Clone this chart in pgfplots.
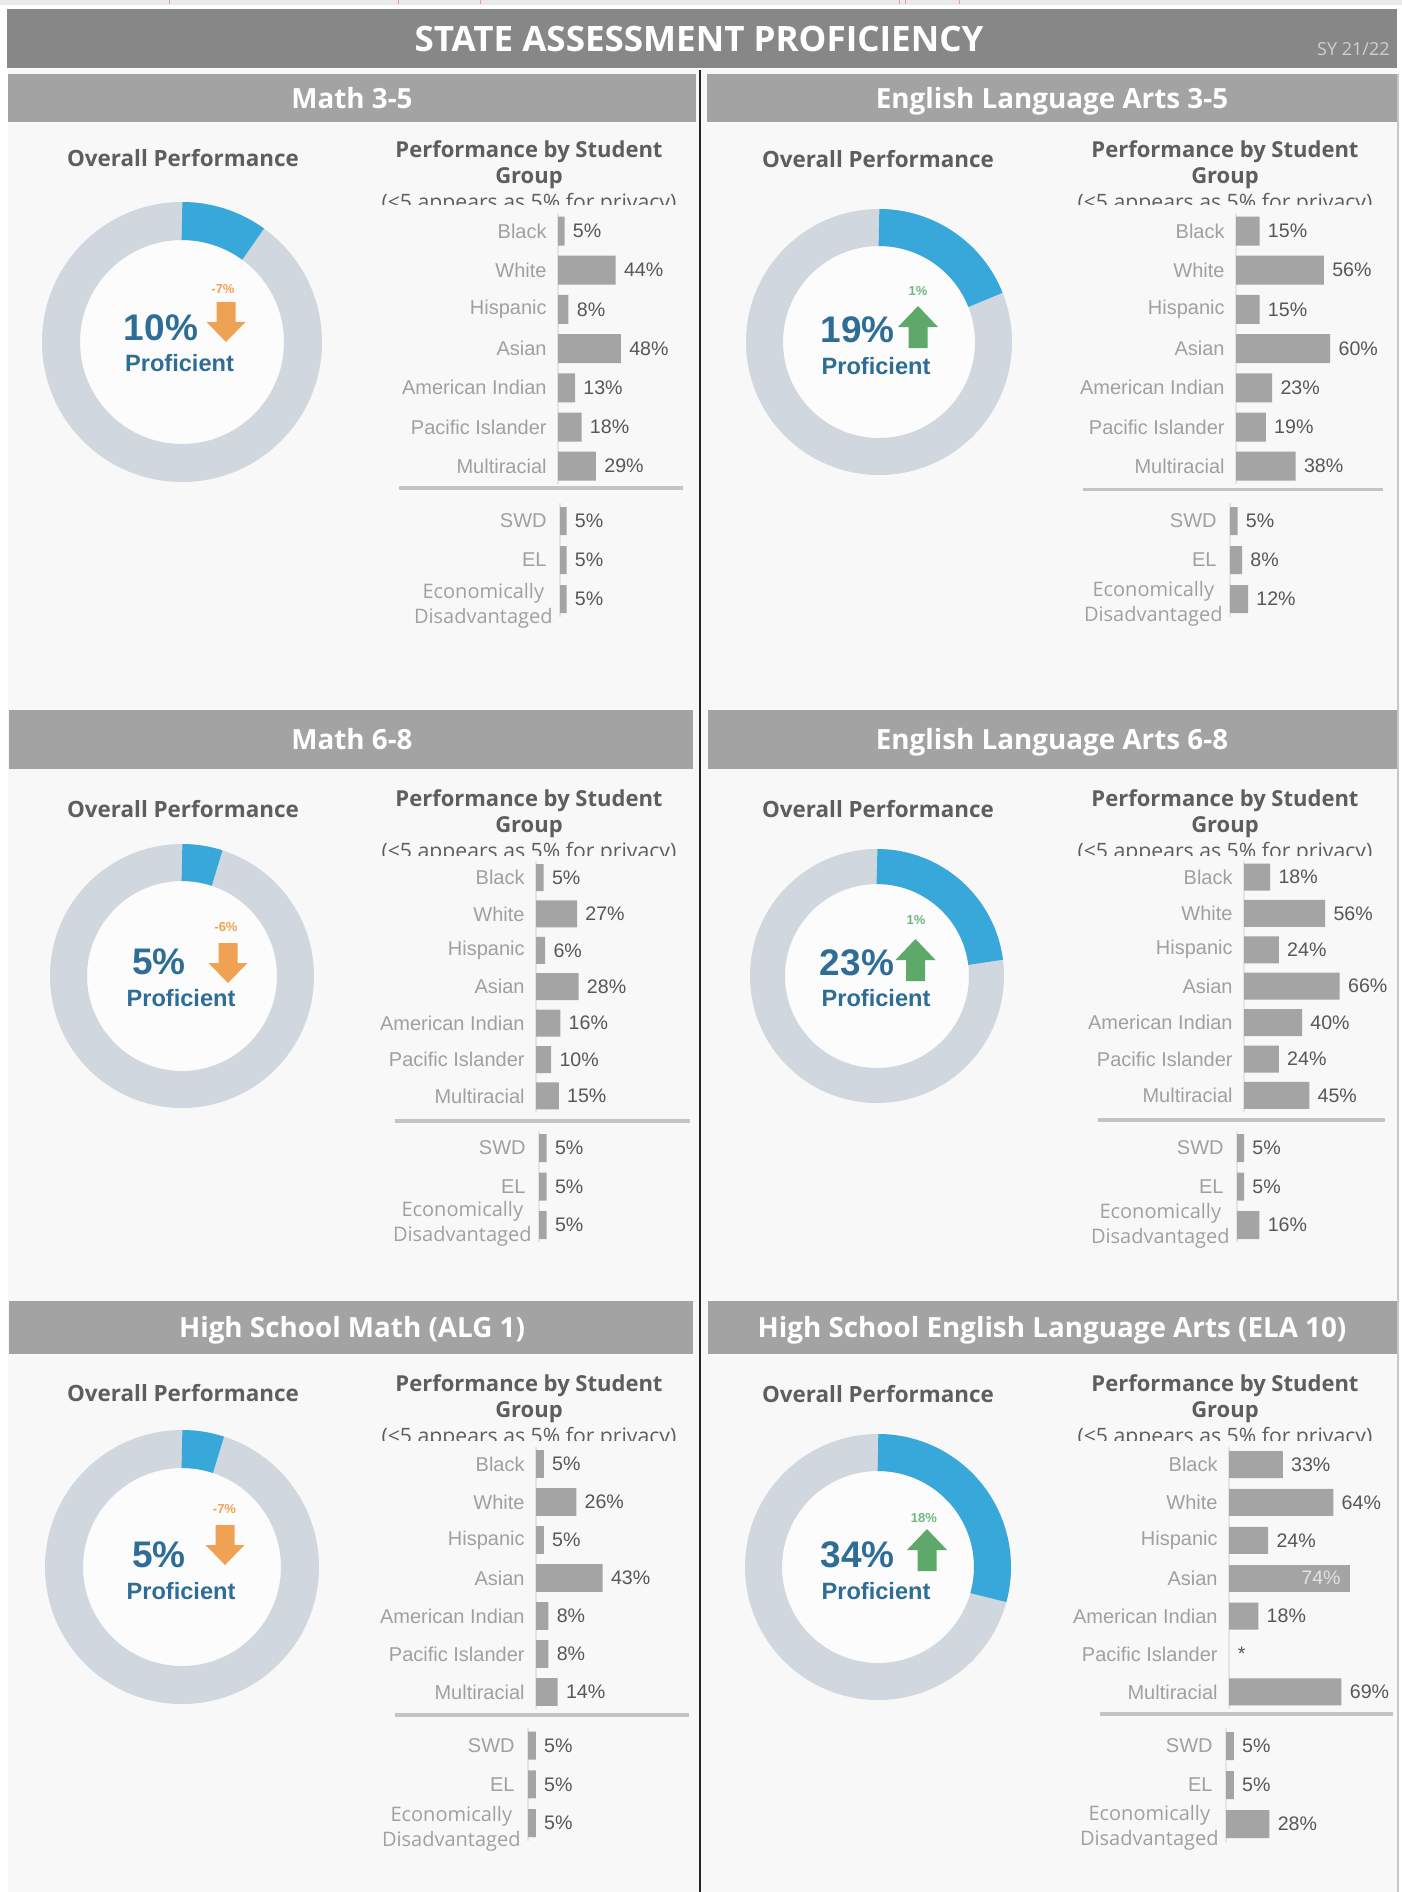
\documentclass[border=0pt]{standalone}
\usepackage{pgfplots}
\pgfplotsset{compat=1.18}
\usepackage{fontspec}
\setmainfont{Open Sans}
\newfontfamily\lib{Liberation Sans}

\definecolor{titlebar}{HTML}{878787}
\definecolor{hdr}{HTML}{A3A3A3}
\definecolor{panelbg}{HTML}{F8F8F8}
\definecolor{barc}{HTML}{A4A4A4}
\definecolor{lbl}{HTML}{A0A0A0}
\definecolor{val}{HTML}{575757}
\definecolor{ringc}{HTML}{D0D7DF}
\definecolor{ringblue}{HTML}{38A8DA}
\definecolor{hole}{HTML}{FCFCFC}
\definecolor{pct}{HTML}{2E6D96}
\definecolor{ttl}{HTML}{5E5E5E}
\definecolor{orng}{HTML}{F0A254}
\definecolor{grn}{HTML}{5EA86A}
\definecolor{grntxt}{HTML}{6DBA7A}
\definecolor{sepc}{HTML}{C4C4C4}
\definecolor{axl}{HTML}{E4E4E4}
\definecolor{topstrip}{HTML}{EAEAEA}
\definecolor{redmark}{HTML}{EE9A9A}
\definecolor{sytxt}{HTML}{CFCFCF}
\definecolor{intxt}{HTML}{E2E2E2}

\pgfplotsset{
  grp/.style n args={4}{
    anchor=origin, xbar, bar shift=0pt, bar width=#3,
    x=#1, y=#2, y dir=reverse, xmin=0, xmax=85,
    clip=false, axis x line=none, axis y line*=left,
    axis line style={draw=axl, line width=0.6pt},
    xtick=\empty, major tick length=0pt,
    yticklabel style={font=\lib\fontsize{10}{12.5}\selectfont, text=lbl, anchor=east, inner sep=0pt, xshift=#4},
    /pgf/number format/assume math mode=true,
    point meta=x,
    nodes near coords={\pgfmathprintnumber{\pgfplotspointmeta}\%},
    nodes near coords align=horizontal,
    every node near coord/.append style={font=\lib\fontsize{9.8}{12}\selectfont, text=val, inner sep=0pt, xshift=4pt, anchor=west},
  },
  up/.style={ymin=-0.45, ymax=6.45, ytick={0,1,2,3,4,5,6},
    yticklabels={Black,White,Hispanic,Asian,American Indian,Pacific Islander,Multiracial}},
  lo/.style={ymin=-0.45, ymax=2.45, ytick={0,1,2}, yticklabels={SWD,EL,{}}},
  donut/.style={anchor=origin, x=0.5pt, y=0.5pt, xmin=-150, xmax=150, ymin=-150, ymax=150, hide axis, clip=false},
}

\tikzset{
  hdrf/.style={font=\bfseries\fontsize{13.9}{16}\selectfont, text=white, inner sep=0pt, anchor=base},
  ovp/.style={font=\bfseries\fontsize{11.2}{13}\selectfont, text=ttl, inner sep=0pt},
  pbsf/.style={font=\bfseries\fontsize{11}{13}\selectfont, text=ttl, inner sep=0pt},
  privf/.style={font=\fontsize{10.6}{13}\selectfont, text=ttl, inner sep=0pt},
  big/.style={font=\lib\bfseries\fontsize{18.5}{20}\selectfont, text=pct, inner sep=0pt},
  prof/.style={font=\lib\bfseries\fontsize{11.8}{13}\selectfont, text=pct, inner sep=0pt},
  chg/.style={font=\lib\bfseries\fontsize{6.5}{7}\selectfont, inner sep=0pt},
  edl/.style={font=\fontsize{10}{12.5}\selectfont, text=lbl, align=center, inner sep=0pt, anchor=east},
}

\newcommand{\donutplot}[4]{%
  \pgfmathsetmacro{\dmid}{(#2+#3)/4}%
  \pgfmathsetmacro{\dlw}{(#2-#3)/2}%
  \pgfmathsetmacro{\dhole}{#3/2}%
  \pgfmathsetmacro{\dend}{90-3.6*#4}%
  \begin{axis}[donut, at={(#1)}]
    \fill[hole] (axis cs:0,0) circle[radius=\dhole pt];
    \draw[ringc, line width=\dlw pt] (axis cs:0,0) circle[radius=\dmid pt];
    \draw[ringblue, line width=\dlw pt] (axis cs:0,0) ++(90:\dmid pt) arc[start angle=90, end angle=\dend, radius=\dmid pt];
  \end{axis}%
}
\newcommand{\arrdown}[3]{\fill[#3] (#1-9.5,#2) -- (#1+9.5,#2) -- (#1+9.5,#2+20) -- (#1+19.5,#2+20) -- (#1,#2+40) -- (#1-19.5,#2+20) -- (#1-9.5,#2+20) -- cycle;}
\newcommand{\arrup}[3]{\fill[#3] (#1,#2) -- (#1+20,#2+21) -- (#1+9.5,#2+21) -- (#1+9.5,#2+42) -- (#1-9.5,#2+42) -- (#1-9.5,#2+21) -- (#1-20,#2+21) -- cycle;}
\newcommand{\pbs}[5]{%
  \node[pbsf, anchor=base] at (#1,#2) {Performance by Student};
  \node[pbsf, anchor=base] at (#1,#3) {Group};
  \begin{scope}
    \clip (#1-200,#4-40) rectangle (#1+200,#5);
    \node[privf, anchor=base] at (#1,#4) {(<5 appears as 5\% for privacy)};
  \end{scope}%
}

\begin{document}
\begin{tikzpicture}[x=0.5pt, y=-0.5pt]
\useasboundingbox (0,0) rectangle (1402,1892);
\fill[white] (0,0) rectangle (1402,1892);
\fill[topstrip] (0,0) rectangle (1402,5);
\foreach \xx in {169,398,480,899,905,959} {\draw[redmark, line width=0.5pt] (\xx,0) -- (\xx,4);}
% panels
\fill[panelbg] (8,69) rectangle (1397,1892);
\fill[titlebar] (7,9) rectangle (1397,68);
\node[font=\bfseries\fontsize{17.5}{20}\selectfont, text=white, inner sep=0pt, anchor=base] at (699,51) {STATE ASSESSMENT PROFICIENCY};
\node[font=\fontsize{9}{10}\selectfont, text=sytxt, inner sep=0pt, anchor=base east] at (1390,55) {SY 21/22};
\fill[hdr] (8,74) rectangle (696,122);
\fill[hdr] (707,74) rectangle (1397,122);
\fill[hdr] (9,710) rectangle (693,769);
\fill[hdr] (708,710) rectangle (1397,769);
\fill[hdr] (9,1301) rectangle (693,1354);
\fill[hdr] (708,1301) rectangle (1397,1354);
\draw[black!85, line width=1pt] (700,70) -- (700,1892);
\draw[black!22, line width=0.75pt] (1398,74) -- (1398,1892);
\node[hdrf] at (352,108) {Math 3-5};
\node[hdrf] at (1052,108) {English Language Arts 3-5};
\node[hdrf] at (352,749.5) {Math 6-8};
\node[hdrf] at (1052,749.5) {English Language Arts 6-8};
\node[hdrf] at (352,1337.5) {High School Math (ALG 1)};
\node[hdrf] at (1052,1337.5) {High School English Language Arts (ELA 10)};

% overall headings
\node[ovp] at (183,158) {Overall Performance};
\node[ovp] at (878,159) {Overall Performance};
\node[ovp] at (183,809) {Overall Performance};
\node[ovp] at (878,809) {Overall Performance};
\node[ovp] at (183,1393) {Overall Performance};
\node[ovp] at (878,1394) {Overall Performance};

% bar section titles
\pbs{529}{157}{183}{209}{204}
\pbs{1225}{157}{183}{209}{204}
\pbs{529}{806}{832}{858}{855}
\pbs{1225}{806}{832}{858}{855}
\pbs{529}{1391}{1417.5}{1443.5}{1440}
\pbs{1225}{1391}{1417.5}{1443.5}{1440}

% separators
\draw[sepc, line width=1.75pt] (399,488) -- (683,488);
\draw[sepc, line width=1.75pt] (1083,489.5) -- (1383,489.5);
\draw[sepc, line width=1.75pt] (395,1121) -- (690,1121);
\draw[sepc, line width=1.75pt] (1098,1120) -- (1385,1120);
\draw[sepc, line width=1.75pt] (395,1715) -- (689,1715);
\draw[sepc, line width=1.75pt] (1100,1714) -- (1393,1714);

% donuts
\coordinate (d1) at (182,342);
\coordinate (d2) at (879,342);
\coordinate (d3) at (182,976);
\coordinate (d4) at (877,976);
\coordinate (d5) at (182,1567);
\coordinate (d6) at (878,1567);
\donutplot{d1}{140}{102}{10}
\donutplot{d2}{133}{96}{19}
\donutplot{d3}{132}{95}{5}
\donutplot{d4}{127}{92}{23}
\donutplot{d5}{137}{99}{5}
\donutplot{d6}{133}{96}{29.3}

% donut centre texts
\node[big] at (161,328) {10\%};
\node[prof] at (179.5,363.5) {Proficient};
\node[chg, text=orng] at (223,289) {-7\%};
\arrdown{226}{302}{orng}

\node[big] at (857.6,330) {19\%};
\node[prof] at (876,366) {Proficient};
\node[chg, text=grntxt] at (918,291) {1\%};
\arrup{918}{306}{grn}

\node[big] at (159,962) {5\%};
\node[prof] at (181,998) {Proficient};
\node[chg, text=orng] at (226,927) {-6\%};
\arrdown{228}{943}{orng}

\node[big] at (857,962.5) {23\%};
\node[prof] at (876,998) {Proficient};
\node[chg, text=grntxt] at (916,920) {1\%};
\arrup{915.5}{939}{grn}

\node[big] at (159,1555) {5\%};
\node[prof] at (181,1591) {Proficient};
\node[chg, text=orng] at (224.5,1509.5) {-7\%};
\arrdown{225}{1525}{orng}

\node[big] at (857.6,1555) {34\%};
\node[prof] at (876,1591) {Proficient};
\node[chg, text=grntxt] at (924,1518) {18\%};
\arrup{927}{1529}{grn}

% ---------- bar groups ----------
\coordinate (u1) at (558,231);
\coordinate (l1) at (560,521);
\coordinate (u2) at (1236,231);
\coordinate (l2) at (1230,521);
\coordinate (u3) at (536,877.5);
\coordinate (l3) at (539,1148);
\coordinate (u4) at (1244,877);
\coordinate (l4) at (1237,1148);
\coordinate (u5) at (536,1464);
\coordinate (l5) at (528,1745.5);
\coordinate (u6) at (1229,1464.5);
\coordinate (l6) at (1226,1746);

% Math 3-5
\begin{axis}[grp={0.655pt}{19.6pt}{14.5pt}{-5.5pt}, up, at={(u1)}]
\addplot[fill=barc, draw=none] table[x=v,y=r] {
r v
0 5
1 44
2 8
3 48
4 13
5 18
6 29
};
\end{axis}
\begin{axis}[grp={0.655pt}{19.5pt}{14pt}{-6.5pt}, lo, at={(l1)}]
\addplot[fill=barc, draw=none] table[x=v,y=r] {
r v
0 5
1 5
2 5
};
\node[edl, xshift=-3.5pt, yshift=-3.5pt] at (axis cs:0,2) {Economically\\Disadvantaged};
\end{axis}

% ELA 3-5
\begin{axis}[grp={0.785pt}{19.6pt}{14.5pt}{-5.5pt}, up, at={(u2)}]
\addplot[fill=barc, draw=none] table[x=v,y=r] {
r v
0 15
1 56
2 15
3 60
4 23
5 19
6 38
};
\end{axis}
\begin{axis}[grp={0.75pt}{19.5pt}{14pt}{-6.5pt}, lo, at={(l2)}]
\addplot[fill=barc, draw=none] table[x=v,y=r] {
r v
0 5
1 8
2 12
};
\node[edl, xshift=-3.5pt, yshift=-2.6pt] at (axis cs:0,2) {Economically\\Disadvantaged};
\end{axis}

% Math 6-8
\begin{axis}[grp={0.76pt}{18.2pt}{13.5pt}{-5.5pt}, up, at={(u3)}]
\addplot[fill=barc, draw=none] table[x=v,y=r] {
r v
0 5
1 27
2 6
3 28
4 16
5 10
6 15
};
\end{axis}
\begin{axis}[grp={0.76pt}{19.25pt}{14pt}{-6.5pt}, lo, at={(l3)}]
\addplot[fill=barc, draw=none] table[x=v,y=r] {
r v
0 5
1 5
2 5
};
\node[edl, xshift=-3.5pt, yshift=0.75pt] at (axis cs:0,2) {Economically\\Disadvantaged};
\end{axis}

% ELA 6-8
\begin{axis}[grp={0.725pt}{18.2pt}{13.5pt}{-5.5pt}, up, at={(u4)}]
\addplot[fill=barc, draw=none] table[x=v,y=r] {
r v
0 18
1 56
2 24
3 66
4 40
5 24
6 45
};
\end{axis}
\begin{axis}[grp={0.7pt}{19.25pt}{14pt}{-6.5pt}, lo, at={(l4)}]
\addplot[fill=barc, draw=none] table[x=v,y=r] {
r v
0 5
1 5
2 16
};
\node[edl, xshift=-3.5pt, yshift=-0.5pt] at (axis cs:0,2) {Economically\\Disadvantaged};
\end{axis}

% HS Math
\begin{axis}[grp={0.775pt}{19pt}{13.8pt}{-5.5pt}, up, at={(u5)}]
\addplot[fill=barc, draw=none] table[x=v,y=r] {
r v
0 5
1 26
2 5
3 43
4 8
5 8
6 14
};
\end{axis}
\begin{axis}[grp={0.775pt}{19.4pt}{14pt}{-6.5pt}, lo, at={(l5)}]
\addplot[fill=barc, draw=none] table[x=v,y=r] {
r v
0 5
1 5
2 5
};
\node[edl, xshift=-3.5pt, yshift=-2.75pt] at (axis cs:0,2) {Economically\\Disadvantaged};
\end{axis}

% HS ELA
\begin{axis}[grp={0.815pt}{18.95pt}{13.5pt}{-5.5pt}, up, at={(u6)}]
\addplot[fill=barc, draw=none] table[x=v,y=r] {
r v
0 33
1 64
2 24
4 18
6 69
};
\addplot[fill=barc, draw=none, nodes near coords={}] table[x=v,y=r] {
r v
3 74
};
\node[font=\lib\fontsize{9.8}{12}\selectfont, text=intxt, inner sep=0pt, anchor=east, xshift=-4.3pt] at (axis cs:74,3) {74\%};
\node[font=\lib\fontsize{9.8}{12}\selectfont, text=val, inner sep=0pt, xshift=6.3pt] at (axis cs:0,5) {*};
\end{axis}
\begin{axis}[grp={0.775pt}{19.5pt}{14pt}{-6.5pt}, lo, at={(l6)}]
\addplot[fill=barc, draw=none] table[x=v,y=r] {
r v
0 5
1 5
2 28
};
\node[edl, xshift=-3.5pt, yshift=-1.75pt] at (axis cs:0,2) {Economically\\Disadvantaged};
\end{axis}

\end{tikzpicture}
\end{document}
